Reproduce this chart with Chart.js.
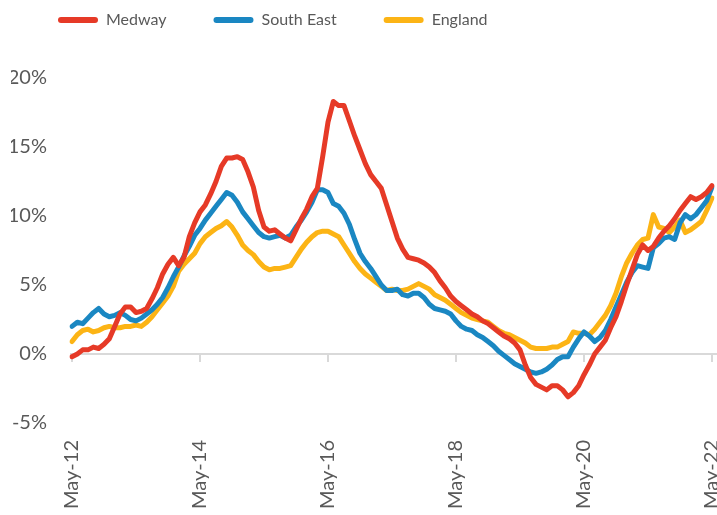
<!DOCTYPE html>
<html>
<head>
<meta charset="utf-8">
<script src="https://cdn.jsdelivr.net/npm/chart.js@4"></script>
<style>
  body { margin: 0; background: #fff; }
  #contenedor { width: 717px; height: 515px; }
</style>
</head>
<body>
<div id="contenedor"><canvas id="grafica"></canvas></div>
<script>
// meses de mayo 2012 a mayo 2022
const nombresMes = ['May', 'Jun', 'Jul', 'Aug', 'Sep', 'Oct', 'Nov', 'Dec', 'Jan', 'Feb', 'Mar', 'Apr'];
const anioInicio = 12;
const totalMeses = 121;

const medway = [
    -0.2, 0.0, 0.3, 0.3, 0.5, 0.4, 0.7, 1.1, 2.0, 2.9,
    3.4, 3.4, 3.0, 3.1, 3.3, 4.0, 4.8, 5.8, 6.5, 7.0,
    6.4, 7.0, 8.5, 9.5, 10.3, 10.8, 11.6, 12.5, 13.6, 14.2,
    14.2, 14.3, 14.1, 13.2, 12.1, 10.4, 9.2, 8.9, 9.0, 8.7,
    8.4, 8.2, 9.0, 9.8, 10.5, 11.4, 12.0, 14.3, 16.8, 18.3,
    18.0, 18.0, 16.9, 15.8, 14.8, 13.8, 13.0, 12.5, 12.0, 10.8,
    9.6, 8.4, 7.6, 7.0, 6.9, 6.8, 6.6, 6.3, 5.9, 5.3,
    4.8, 4.2, 3.8, 3.5, 3.2, 2.9, 2.7, 2.4, 2.2, 1.9,
    1.6, 1.3, 1.1, 0.8, 0.3, -0.8, -1.7, -2.2, -2.4, -2.6,
    -2.3, -2.3, -2.6, -3.1, -2.8, -2.3, -1.5, -0.8, 0.0, 0.5,
    1.0, 1.9, 2.7, 3.8, 5.0, 6.1, 7.2, 7.9, 7.5, 7.8,
    8.4, 8.9, 9.3, 9.8, 10.4, 10.9, 11.4, 11.2, 11.4, 11.7,
    12.2
];

const surEste = [
    2.0, 2.3, 2.2, 2.6, 3.0, 3.3, 2.9, 2.7, 2.8, 3.0,
    2.8, 2.5, 2.4, 2.6, 2.9, 3.2, 3.6, 4.1, 4.8, 5.6,
    6.3, 7.1, 7.8, 8.6, 9.1, 9.7, 10.2, 10.7, 11.2, 11.7,
    11.5, 11.0, 10.3, 9.8, 9.3, 8.8, 8.5, 8.4, 8.5, 8.6,
    8.4, 8.6, 9.2, 9.7, 10.3, 11.0, 11.9, 11.9, 11.7, 10.9,
    10.7, 10.2, 9.4, 8.3, 7.3, 6.7, 6.2, 5.6, 5.0, 4.6,
    4.6, 4.7, 4.3, 4.2, 4.4, 4.4, 4.1, 3.6, 3.3, 3.2,
    3.1, 2.9, 2.4, 2.0, 1.8, 1.7, 1.4, 1.2, 0.9, 0.6,
    0.2, -0.1, -0.4, -0.7, -0.9, -1.1, -1.3, -1.4, -1.3, -1.1,
    -0.8, -0.4, -0.2, -0.2, 0.5, 1.1, 1.6, 1.3, 0.9, 1.2,
    1.7, 2.5, 3.4, 4.3, 5.2, 5.9, 6.4, 6.3, 6.2, 7.7,
    8.0, 8.4, 8.5, 8.3, 9.5, 10.1, 9.8, 10.1, 10.6, 11.1,
    12.1
];

const inglaterra = [
    0.9, 1.4, 1.7, 1.8, 1.6, 1.7, 1.9, 2.0, 1.9, 1.9,
    2.0, 2.0, 2.1, 2.0, 2.3, 2.7, 3.2, 3.7, 4.2, 4.9,
    6.0, 6.5, 6.9, 7.3, 8.0, 8.5, 8.8, 9.1, 9.3, 9.6,
    9.2, 8.6, 7.9, 7.5, 7.2, 6.7, 6.3, 6.1, 6.2, 6.2,
    6.3, 6.4, 7.0, 7.6, 8.1, 8.5, 8.8, 8.9, 8.9, 8.7,
    8.5, 7.9, 7.3, 6.7, 6.2, 5.8, 5.5, 5.2, 4.9, 4.6,
    4.7, 4.6, 4.6, 4.7, 4.9, 5.1, 4.9, 4.7, 4.3, 4.1,
    3.9, 3.6, 3.3, 3.0, 2.8, 2.6, 2.5, 2.4, 2.3, 2.0,
    1.7, 1.5, 1.4, 1.2, 1.0, 0.8, 0.5, 0.4, 0.4, 0.4,
    0.5, 0.5, 0.7, 0.9, 1.6, 1.5, 1.5, 1.4, 1.8, 2.3,
    2.8, 3.5, 4.4, 5.6, 6.6, 7.3, 7.9, 8.3, 8.4, 10.1,
    9.2, 9.1, 8.8, 9.2, 9.7, 8.8, 9.0, 9.3, 9.6, 10.4,
    11.3
];

const ticksY = [-5, 0, 5, 10, 15, 20];

const etiquetas = [];
for (let i = 0; i < totalMeses; i++) {
    const anio = anioInicio + Math.floor((i + 4) / 12);
    etiquetas.push(`${nombresMes[i % 12]}-${anio}`);
}

const colorTexto = '#595959';
const fuente = "'Lato', sans-serif";

// linea del cero con sus marcas, por detras de las series
const ejeCero = {
    id: 'ejeCero',
    beforeDatasetsDraw(chart) {
        const { ctx, chartArea, scales: { x, y } } = chart;
        const y0 = y.getPixelForValue(0);
        ctx.save();
        ctx.strokeStyle = '#d9d9d9';
        ctx.lineWidth = 2;
        ctx.beginPath();
        ctx.moveTo(chartArea.left - 2, y0);
        ctx.lineTo(chart.width, y0);
        x.ticks.forEach((t, i) => {
            if (t.label) {
                const px = x.getPixelForTick(i);
                ctx.moveTo(px, y0);
                ctx.lineTo(px, y0 + 8);
            }
        });
        ctx.stroke();
        ctx.restore();
    }
};

// alto fijo de la leyenda
const altoLeyenda = {
    id: 'altoLeyenda',
    beforeInit(chart) {
        const fitOriginal = chart.legend.fit;
        chart.legend.fit = function () {
            fitOriginal.bind(chart.legend)();
            this.height = 113;
        };
    }
};

function serie(nombre, datos, color) {
    return {
        label: nombre,
        data: datos,
        borderColor: color,
        backgroundColor: color,
        borderWidth: 5,
        pointRadius: 0,
        tension: 0,
        borderJoinStyle: 'round',
        borderCapStyle: 'round'
    };
}

const ctx = document.getElementById('grafica').getContext('2d');
new Chart(ctx, {
    type: 'line',
    data: {
        labels: etiquetas,
        datasets: [
            serie('Medway', medway, '#e63a27'),
            serie('South East', surEste, '#1a87c2'),
            serie('England', inglaterra, '#fcb415')
        ]
    },
    options: {
        responsive: true,
        maintainAspectRatio: false,
        animation: false,
        layout: { padding: { left: 11, right: 5, top: -35, bottom: 0 } },
        plugins: {
            tooltip: { enabled: false },
            legend: {
                position: 'top',
                align: 'start',
                labels: {
                    boxWidth: 40,
                    boxHeight: 6,
                    padding: 47,
                    color: colorTexto,
                    font: { family: fuente, size: 16 },
                    generateLabels(chart) {
                        return Chart.defaults.plugins.legend.labels.generateLabels(chart).map(l => {
                            l.lineWidth = 0;
                            l.borderRadius = 3;
                            return l;
                        });
                    }
                }
            }
        },
        scales: {
            x: {
                offset: false,
                grid: { display: false, drawTicks: false },
                border: { display: false },
                ticks: {
                    autoSkip: false,
                    maxRotation: 90,
                    minRotation: 90,
                    padding: 17,
                    color: colorTexto,
                    font: { family: fuente, size: 20 },
                    callback: function (valor, indice) {
                        return indice % 24 === 0 ? this.getLabelForValue(valor) : null;
                    }
                },
                afterFit(escala) {
                    escala.paddingRight = 0;
                    escala.height = 92;
                }
            },
            y: {
                min: -5,
                max: 20,
                afterBuildTicks(escala) {
                    escala.ticks = ticksY.map(v => ({ value: v }));
                },
                afterFit(escala) {
                    escala.width = 61;
                },
                grid: { display: false, drawTicks: false },
                border: { display: false },
                ticks: {
                    padding: 25,
                    color: colorTexto,
                    font: { family: fuente, size: 20 },
                    callback: v => v + '%'
                }
            }
        }
    },
    plugins: [ejeCero, altoLeyenda]
});
</script>
</body>
</html>
